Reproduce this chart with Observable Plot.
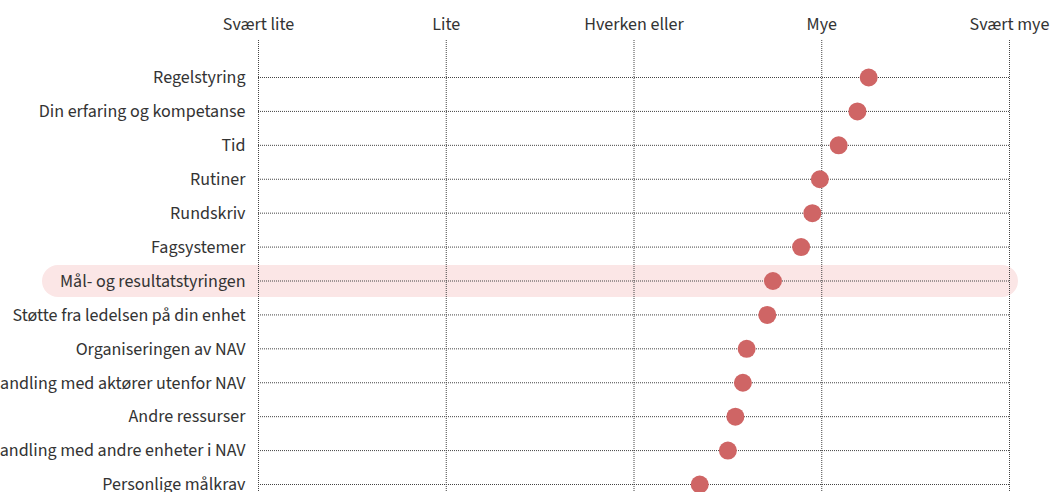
<!DOCTYPE html>
<html>
<head>
<meta charset="utf-8">
<script src="https://cdn.jsdelivr.net/npm/d3@7"></script>
<script src="https://cdn.jsdelivr.net/npm/@observablehq/plot@0.6"></script>
<style>
  html, body { margin: 0; padding: 0; background: #fff; overflow: hidden; }
  #chart svg { display: block; }
</style>
</head>
<body>
<div id="chart"></div>
<script>
const categories = [
  "Regelstyring",
  "Din erfaring og kompetanse",
  "Tid",
  "Rutiner",
  "Rundskriv",
  "Fagsystemer",
  "Mål- og resultatstyringen",
  "Støtte fra ledelsen på din enhet",
  "Organiseringen av NAV",
  "Samhandling med aktører utenfor NAV",
  "Andre ressurser",
  "Samhandling med andre enheter i NAV",
  "Personlige målkrav"
];
const values = [4.25, 4.19, 4.09, 3.99, 3.95, 3.89, 3.74, 3.71, 3.60, 3.58, 3.54, 3.50, 3.35];
const tickValues = [1, 2, 3, 4, 5];
const tickLabels = ["Svært lite", "Lite", "Hverken eller", "Mye", "Svært mye"];
const highlighted = ["Mål- og resultatstyringen"];

const data = categories.map((c, i) => ({category: c, value: values[i]}));

const font = "'Source Sans Pro', 'Source Sans 3', Lato, 'Noto Sans', sans-serif";

const chart = Plot.plot({
  width: 1051,
  height: 492,
  marginTop: 40,
  marginBottom: 0,
  marginLeft: 58,
  marginRight: 49,
  style: {fontFamily: font, fontSize: "18px", color: "#333", background: "#fff", overflow: "visible"},
  x: {domain: [1, 5], range: [258, 1009], axis: null},
  y: {type: "point", domain: categories, range: [77, 484], padding: 0, round: false, axis: null},
  marks: [
    Plot.ruleY(highlighted, {y: d => d, stroke: "#fbe6e6", strokeWidth: 32, strokeLinecap: "round"}),
    Plot.ruleX(tickValues, {x: d => d, stroke: "#444", strokeDasharray: "1,1", strokeWidth: 1}),
    Plot.ruleY(categories, {y: d => d, x1: () => 1, x2: () => 5, stroke: "#444", strokeDasharray: "1,1", strokeWidth: 1}),
    Plot.axisX({anchor: "top", ticks: tickValues, tickFormat: d => tickLabels[d - 1], tickSize: 0, tickPadding: 11, fontSize: 18, fill: "#333", label: null}),
    Plot.text(categories, {x: () => 1, y: d => d, text: d => d, textAnchor: "end", dx: -13, fontSize: 18, fill: "#333"}),
    Plot.dot(data, {x: "value", y: "category", r: 9, fill: "#cf6565", stroke: "none"})
  ]
});
document.getElementById("chart").appendChild(chart);
</script>
</body>
</html>
